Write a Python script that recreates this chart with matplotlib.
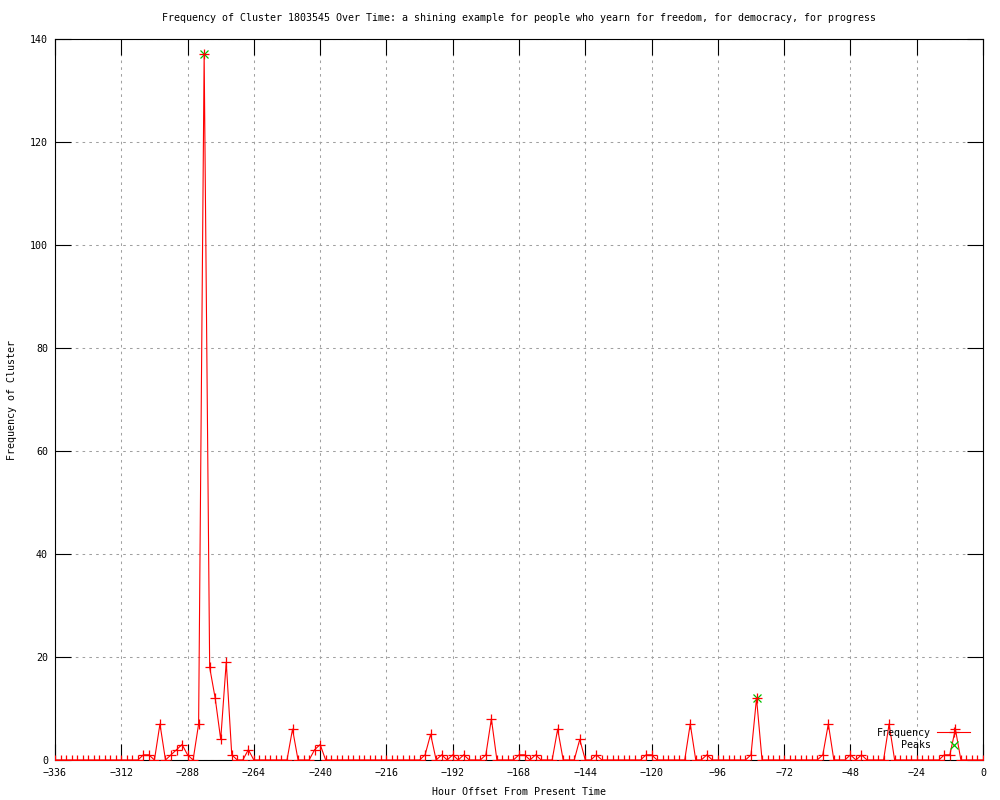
import numpy as np
import matplotlib
matplotlib.use("Agg")
import matplotlib.pyplot as plt

# ---- data ----
hours = np.arange(-336, 1, 2)  # one sample every 2 hours
freq = [
    # -336 .. -306
    0, 0, 0, 0, 0, 0, 0, 0, 0, 0, 0, 0, 0, 0, 0, 0,
    # -304 .. -274
    1, 1, 0, 7, 0, 1, 2, 3, 1, 0, 7, 137, 18, 12, 4, 19,
    # -272 .. -242
    1, 0, 0, 2, 0, 0, 0, 0, 0, 0, 0, 6, 0, 0, 0, 2,
    # -240 .. -210
    3, 0, 0, 0, 0, 0, 0, 0, 0, 0, 0, 0, 0, 0, 0, 0,
    # -208 .. -178
    0, 0, 0, 1, 5, 0, 1, 0, 1, 0, 1, 0, 0, 0, 1, 8,
    # -176 .. -146
    0, 0, 0, 0, 1, 1, 0, 1, 0, 0, 0, 6, 0, 0, 0, 4,
    # -144 .. -114
    0, 0, 1, 0, 0, 0, 0, 0, 0, 0, 0, 1, 1, 0, 0, 0,
    # -112 .. -82
    0, 0, 0, 7, 0, 0, 1, 0, 0, 0, 0, 0, 0, 0, 1, 12,
    # -80 .. -50
    0, 0, 0, 0, 0, 0, 0, 0, 0, 0, 0, 1, 7, 0, 0, 0,
    # -48 .. -18
    1, 0, 1, 0, 0, 0, 0, 7, 0, 0, 0, 0, 0, 0, 0, 0,
    # -16 .. 0
    0, 1, 1, 6, 0, 0, 0, 0, 0,
]
peak_hours = [-282, -82]
peak_values = [137, 12]

x_ticks = [-336, -312, -288, -264, -240, -216, -192, -168, -144, -120,
           -96, -72, -48, -24, 0]
y_ticks = [0, 20, 40, 60, 80, 100, 120, 140]

title = ("Frequency of Cluster 1803545 Over Time: a shining example for people "
         "who yearn for freedom, for democracy, for progress")
x_label = "Hour Offset From Present Time"
y_label = "Frequency of Cluster"

# ---- style ----
FONT = "DejaVu Sans Mono"
FS = 7.2
plt.rcParams["font.family"] = [FONT]

fig = plt.figure(figsize=(10, 8), dpi=100)
ax = fig.add_axes([0.055, 0.05, 0.928, 1 - 0.05 - 39 / 800])

ax.plot(hours, freq, color="#ff0000", lw=0.8, marker="+", ms=6.5, mew=0.9,
        label="Frequency", zorder=4)
ax.plot(peak_hours, peak_values, linestyle="none", marker="x", color="#00c000",
        ms=5.5, mew=0.9, label="Peaks", zorder=3)

ax.set_xlim(-336, 0)
ax.set_ylim(0, 140)
ax.set_xticks(x_ticks)
ax.set_yticks(y_ticks)
ax.tick_params(axis="both", which="both", direction="in", length=11.5, width=0.8,
               top=True, right=True, labelsize=FS, colors="black")
ax.tick_params(axis="x", pad=6)
ax.tick_params(axis="y", pad=5)
for s in ax.spines.values():
    s.set_linewidth(0.8)
    s.set_color("black")

ax.grid(True, color="#a0a0a0", linestyle=(0, (2.5, 4)), linewidth=0.75)
ax.set_axisbelow(True)

ax.set_xlabel(x_label, fontsize=FS)
ax.xaxis.set_label_coords(0.5, (760 - 792) / 721)
ax.xaxis.label.set_va("center")
ax.set_ylabel(y_label, fontsize=FS)
ax.yaxis.set_label_coords((12 - 55) / 928, 0.5)
ax.yaxis.label.set_va("center")

fig.text(0.519, 1 - 18 / 800, title, ha="center", va="center", fontsize=FS)

leg = ax.legend(loc="lower right", bbox_to_anchor=(0.986, 0.0135), frameon=False,
                markerfirst=False, fontsize=FS, handlelength=3.3,
                handletextpad=0.6, labelspacing=0.25, borderpad=0,
                borderaxespad=0)

fig.savefig("out.png", dpi=100)
